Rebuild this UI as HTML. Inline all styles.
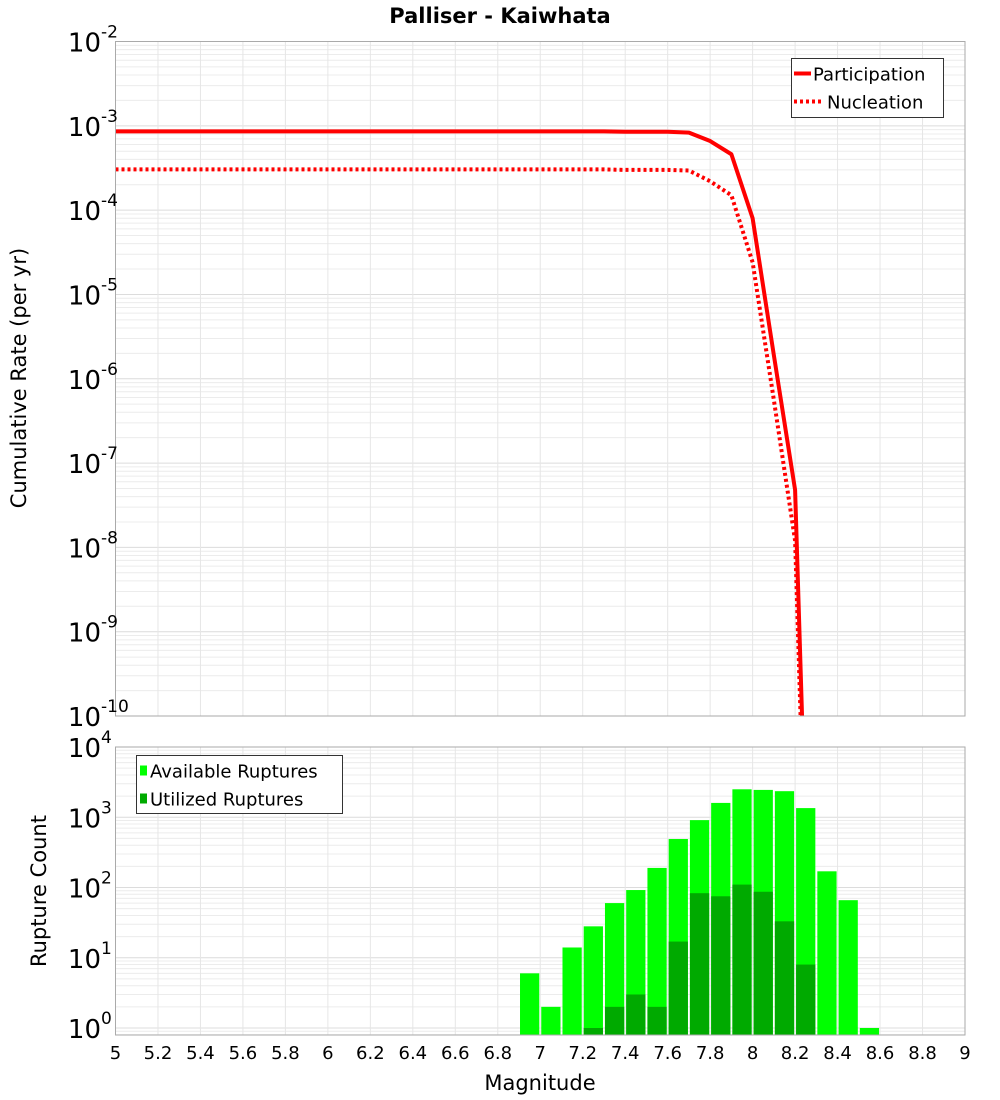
<!DOCTYPE html>
<html><head><meta charset="utf-8"><style>
body{margin:0;background:#fff;}
svg{display:block;font-family:"DejaVu Sans","Liberation Sans",sans-serif;}
</style></head><body>
<svg id="chart" width="1000" height="1100" xmlns="http://www.w3.org/2000/svg">
<rect x="0" y="0" width="1000" height="1100" fill="#fff"/>
<text x="500" y="23" text-anchor="middle" font-size="21" font-weight="bold">Palliser - Kaiwhata</text>
<g id="topG"></g>
<g id="botG"></g>
<text transform="translate(26,378) rotate(-90)" text-anchor="middle" font-size="21">Cumulative Rate (per yr)</text>
<text transform="translate(46,891) rotate(-90)" text-anchor="middle" font-size="21">Rupture Count</text>
<text x="540" y="1090" text-anchor="middle" font-size="21">Magnitude</text>
</svg>
<script>
const mags = [5.0,5.1,5.2,5.3,5.4,5.5,5.6,5.7,5.8,5.9,6.0,6.1,6.2,6.3,6.4,6.5,6.6,6.7,6.8,6.9,7.0,7.1,7.2,7.3,7.4,7.5,7.6,7.7,7.8,7.9,8.0,8.1,8.2,8.3];
const participation = [8.6e-4,8.6e-4,8.6e-4,8.6e-4,8.6e-4,8.6e-4,8.6e-4,8.6e-4,8.6e-4,8.6e-4,8.6e-4,8.6e-4,8.6e-4,8.6e-4,8.6e-4,8.6e-4,8.6e-4,8.6e-4,8.6e-4,8.6e-4,8.6e-4,8.6e-4,8.6e-4,8.6e-4,8.5e-4,8.5e-4,8.5e-4,8.3e-4,6.6e-4,4.6e-4,8e-5,1.9e-6,4.8e-8,3e-16];
const nucleation = [3.04e-4,3.04e-4,3.04e-4,3.04e-4,3.04e-4,3.04e-4,3.04e-4,3.04e-4,3.04e-4,3.04e-4,3.04e-4,3.04e-4,3.04e-4,3.04e-4,3.04e-4,3.04e-4,3.04e-4,3.04e-4,3.04e-4,3.04e-4,3.04e-4,3.04e-4,3.04e-4,3.04e-4,3.0e-4,3.0e-4,3.0e-4,2.95e-4,2.2e-4,1.5e-4,2.4e-5,5.6e-7,1.2e-8,1e-16];
const binCenters = [6.95,7.05,7.15,7.25,7.35,7.45,7.55,7.65,7.75,7.85,7.95,8.05,8.15,8.25,8.35,8.45,8.55];
const available = [6,2,14,28,60,92,190,490,910,1600,2500,2450,2350,1350,170,66,1];
const utilized = [0,0,0,1,2,3,2,17,83,75,110,87,33,8,0,0,0];
const xTicks = [5,5.2,5.4,5.6,5.8,6,6.2,6.4,6.6,6.8,7,7.2,7.4,7.6,7.8,8,8.2,8.4,8.6,8.8,9];
const xTickLabels = ["5","5.2","5.4","5.6","5.8","6","6.2","6.4","6.6","6.8","7","7.2","7.4","7.6","7.8","8","8.2","8.4","8.6","8.8","9"];
const topExps = [-2,-3,-4,-5,-6,-7,-8,-9,-10];
const botExps = [4,3,2,1,0];

const NS="http://www.w3.org/2000/svg";
const L=115.5,R=965;
const xs=m=>L+(m-5)/4*(R-L);
const T1=41.5,B1=716, yt=v=>T1+(-2-Math.log10(v))*(B1-T1)/8;
const T2=747,B2=1035, D2=70.25, yb=v=>1028-Math.log10(v)*D2;
function el(p,tag,a){const e=document.createElementNS(NS,tag);for(const k in a)e.setAttribute(k,a[k]);p.appendChild(e);return e;}
const topG=document.getElementById('topG'),botG=document.getElementById('botG');
const defs=el(document.getElementById('chart'),'defs',{});
const c1=el(defs,'clipPath',{id:'c1'});el(c1,'rect',{x:L,y:T1,width:R-L,height:B1-T1});
const c2=el(defs,'clipPath',{id:'c2'});el(c2,'rect',{x:L,y:T2,width:R-L,height:B2-T2});
function grids(g,T,B,ymap,lo,hi,clip){
  const gg=el(g,'g',{'clip-path':'url(#'+clip+')'});
  
  
  for(let e=lo;e<=hi;e++)for(let k=1;k<10;k++){const y=ymap(k*Math.pow(10,e));if(y<T||y>B)continue;
    el(gg,'line',{x1:L,x2:R,y1:y,y2:y,stroke:k===1?'#dcdcdc':'#ececec','stroke-width':1});}
  xTicks.forEach(t=>{const x=xs(t);el(gg,'line',{x1:x,x2:x,y1:T,y2:B,stroke:'#e6e6e6','stroke-width':1});});
}
grids(topG,T1,B1,yt,-11,-2,'c1');
grids(botG,T2,B2,yb,-1,4,'c2');
function line(arr,dash,name){
  const p=el(topG,'polyline',{points:mags.map((m,i)=>xs(m)+','+yt(arr[i])).join(' '),fill:'none',stroke:'#ff0000','stroke-width':4,'clip-path':'url(#c1)','stroke-linejoin':'round'});
  if(dash)p.setAttribute('stroke-dasharray',dash);
  
  
}
line(participation,null,'participation-line');
line(nucleation,'3,3','nucleation-line');
const bw=(R-L)/40;
binCenters.forEach((m,i)=>{
  const x=xs(m)-bw/2+1;
  const b=el(botG,'rect',{x:x,y:yb(available[i]),width:bw-2,height:B2-yb(available[i]),fill:'#00ff00','clip-path':'url(#c2)'});
  
  
  if(utilized[i]>0){
    const u=el(botG,'rect',{x:x,y:yb(utilized[i]),width:bw-2,height:B2-yb(utilized[i]),fill:'#00aa00','clip-path':'url(#c2)'});
    
    
  }
});
el(topG,'rect',{x:L,y:T1,width:R-L,height:B1-T1,fill:'none',stroke:'#aaa','stroke-width':1});
el(botG,'rect',{x:L,y:T2,width:R-L,height:B2-T2,fill:'none',stroke:'#aaa','stroke-width':1});
function ylab(g,e,y){
  const t=el(g,'text',{x:101,y:y+10,'text-anchor':'end','font-size':26});
  
  
  t.textContent='10';
  const s=el(g,'text',{x:101,y:y-4,'font-size':17});
  
  
  s.textContent=String(e);
}
topExps.forEach(e=>ylab(topG,e,yt(Math.pow(10,e))));
botExps.forEach(e=>ylab(botG,e,yb(Math.pow(10,e))));
xTicks.forEach((t,i)=>{
  const tx=el(botG,'text',{x:xs(t),y:1059,'text-anchor':'middle','font-size':18});
  
  
  tx.textContent=xTickLabels[i];
});
function legend(g,x,y,w,h,items){
  const lg=el(g,'g',{});
  
  
  el(lg,'rect',{x:x,y:y,width:w,height:h,fill:'#fff',stroke:'#333','stroke-width':1});
  items.forEach((it,i)=>{
    const cy=y+15+i*28;
    it.draw(lg,cy);
    const t=el(lg,'text',{x:it.tx,y:cy+7,'font-size':18});
    
    
    t.textContent=it.label;
  });
}
legend(topG,791.5,58.5,152,59,[
  {label:'Participation',tx:813,draw:(g,cy)=>el(g,'line',{x1:794,x2:811,y1:cy,y2:cy,stroke:'#f00','stroke-width':4})},
  {label:'Nucleation',tx:827,draw:(g,cy)=>el(g,'line',{x1:794,x2:822,y1:cy,y2:cy,stroke:'#f00','stroke-width':4,'stroke-dasharray':'3,3'})}
]);
legend(botG,136.5,755.5,206,58,[
  {label:'Available Ruptures',tx:150,draw:(g,cy)=>el(g,'rect',{x:140,y:cy-5,width:7,height:10,fill:'#00ff00'})},
  {label:'Utilized Ruptures',tx:150,draw:(g,cy)=>el(g,'rect',{x:140,y:cy-5,width:7,height:10,fill:'#00aa00'})}
]);
</script>
</body></html>
